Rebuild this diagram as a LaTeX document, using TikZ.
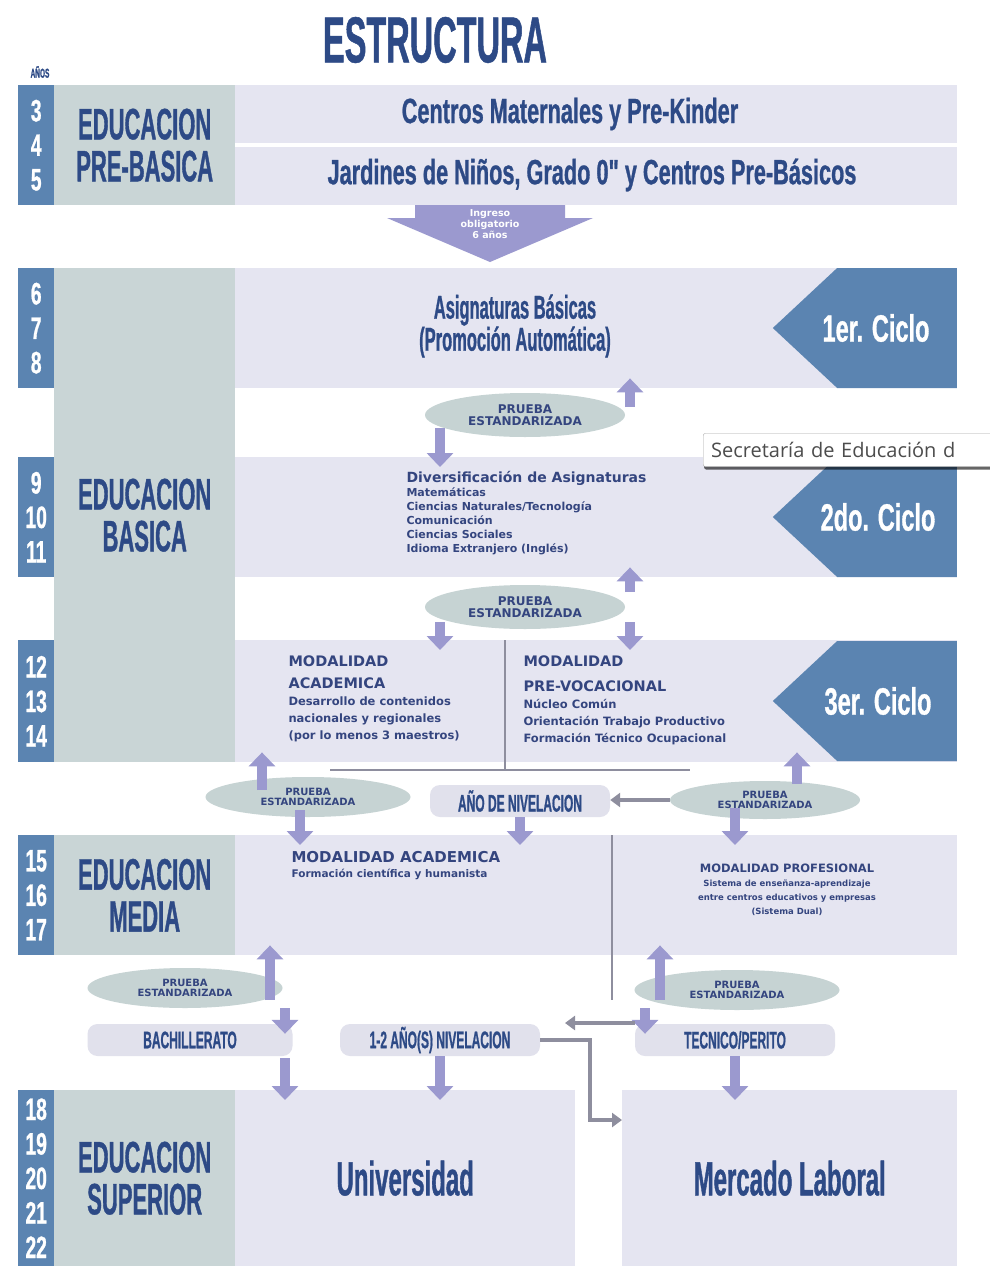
\documentclass[tikz,border=0pt]{standalone}
\usepackage{fontspec}
\setmainfont{DejaVu Sans}
\newfontfamily\headfont[UprightFont={* Bold},FakeStretch=0.5,FakeBold=0.8]{Liberation Sans}
\newfontfamily\headwide[UprightFont={* Bold},FakeStretch=0.62,FakeBold=0.8]{Liberation Sans}
\newfontfamily\bodyfont[UprightFont={* Bold}]{DejaVu Sans}
\newfontfamily\tipfont{Open Sans}
\usetikzlibrary{arrows.meta,shapes.geometric,shapes.symbols,shadows}

\definecolor{stripblue}{HTML}{5B84B1}
\definecolor{stagegrey}{HTML}{C9D5D6}
\definecolor{cellfill}{HTML}{E5E5F1}
\definecolor{navy}{HTML}{2D4A86}
\definecolor{ink}{HTML}{34457F}
\definecolor{fatpurple}{HTML}{9B99CF}
\definecolor{ovalfill}{HTML}{C6D3D3}
\definecolor{pillfill}{HTML}{E1E1EC}
\definecolor{linkgrey}{HTML}{8E8E9E}

\newcommand{\fs}[2]{\fontsize{#1}{#2}\selectfont}

\begin{document}
\begin{tikzpicture}[
  x=1pt, y=-1pt,
  years/.style={fill=stripblue, text=white, anchor=north west, minimum width=36pt, inner sep=0, align=center, font=\headwide\fs{31}{34.5}},
  stage/.style={fill=stagegrey, text=navy, anchor=north west, minimum width=181pt, inner sep=0, align=center, font=\headfont\fs{44}{42}},
  cell/.style={fill=cellfill, text=navy, anchor=north west, inner sep=0},
  ciclo/.style={signal, signal to=west, signal pointer angle=86, fill=stripblue, anchor=east, minimum width=184pt, minimum height=120pt, inner sep=0},
  ciclotext/.style={text=white, font=\headwide\fs{38}{38}},
  prueba/.style={ellipse, fill=ovalfill, text=ink, inner sep=0, align=center, font=\bodyfont\fs{12}{12}},
  pill/.style={rounded corners=10pt, fill=pillfill, text=navy, inner sep=0, font=\headfont\fs{24}{24}},
  fat/.style={draw=fatpurple, line width=10pt, shorten >=-10pt, -{Triangle[width=26pt,length=14pt]}},
  link/.style={draw=linkgrey, line width=4pt, -{Triangle[width=14pt,length=10pt]}},
  divider/.style={draw=linkgrey, line width=2pt}
]
\fill[white] (0,0) rectangle (989,1266);
\useasboundingbox (0,0) rectangle (989,1266);

\node[font=\headfont\fs{65}{65}, text=navy] (title) at (435,40) {ESTRUCTURA};
\node[font=\headfont\fs{13}{13}, text=navy] (anos) at (40,72) {AÑOS};

\node[years, minimum height=120pt] (s0) at (18,85) {3\\4\\5};
\node[years, minimum height=120pt] (s1) at (18,268) {6\\7\\8};
\node[years, minimum height=120pt] (s2) at (18,457) {9\\10\\11};
\node[years, minimum height=122pt] (s3) at (18,640) {12\\13\\14};
\node[years, minimum height=120pt] (s5) at (18,835) {15\\16\\17};
\node[years, minimum height=176pt] (s6) at (18,1090) {18\\19\\20\\21\\22};

\node[stage, minimum height=120pt] (l0) at (54,85) {EDUCACION\\PRE-BASICA};
\node[stage, minimum height=494pt] (l1) at (54,268) {EDUCACION\\BASICA};
\node[stage, minimum height=120pt] (l5) at (54,835) {EDUCACION\\MEDIA};
\node[stage, minimum height=176pt] (l6) at (54,1090) {EDUCACION\\SUPERIOR};

\node[cell, minimum width=722pt, minimum height=58pt] (c0a) at (235,85) {};
\node[cell, minimum width=722pt, minimum height=58pt] (c0b) at (235,147) {};
\node[font=\headwide\fs{35}{35}, text=navy] (mat) at (570,114) {Centros Maternales y Pre-Kinder};
\node[font=\headwide\fs{35}{35}, text=navy] (jar) at (592,175) {Jardines de Niños, Grado 0" y Centros Pre-Básicos};

\fill[fatpurple] (415,205) -- (565,205) -- (565,218) -- (593,218) -- (490,262) -- (387,218) -- (415,218) -- cycle;
\node[text=white, font=\bodyfont\fs{9.5}{11}, align=center] (ingreso) at (490,224) {Ingreso\\obligatorio\\6 años};

\node[cell, minimum width=722pt, minimum height=120pt] (c1) at (235,268) {};
\node[ciclo] (k1) at (957,328) {};
\node[ciclotext] (k1t) at (876,328) {1er. Ciclo};
\node[font=\headfont\fs{33}{32}, text=navy, align=center] (asig) at (515,326) {Asignaturas Básicas\\(Promoción Automática)};

\node[cell, minimum width=722pt, minimum height=120pt] (c2) at (235,457) {};
\node[ciclo] (k2) at (957,517) {};
\node[ciclotext] (k2t) at (878,517) {2do. Ciclo};
\node[anchor=north west, align=left, text=ink, font=\bodyfont\fs{11}{14}] (div) at (403,468)
  {{\fs{14}{15}Diversificación de Asignaturas}\\Matemáticas\\Ciencias Naturales/Tecnología\\Comunicación\\Ciencias Sociales\\Idioma Extranjero (Inglés)};

\node[cell, minimum width=722pt, minimum height=122pt] (c3) at (235,640) {};
\node[ciclo] (k3) at (957,701) {};
\node[ciclotext] (k3t) at (878,701) {3er. Ciclo};
\node[anchor=north west, align=left, text=ink, font=\bodyfont\fs{11.5}{17}] (acad) at (285,652)
  {{\fs{14.5}{17}MODALIDAD}\\[5pt]{\fs{14.5}{17}ACADEMICA}\\Desarrollo de contenidos\\nacionales y regionales\\(por lo menos 3 maestros)};
\node[anchor=north west, align=left, text=ink, font=\bodyfont\fs{11.5}{17}] (prevoc) at (520,652)
  {{\fs{14.5}{17}MODALIDAD}\\[8pt]{\fs{14.5}{17}PRE-VOCACIONAL}\\Núcleo Común\\Orientación Trabajo Productivo\\Formación Técnico Ocupacional};

\node[cell, minimum width=722pt, minimum height=120pt] (c5) at (235,835) {};
\node[anchor=north west, align=left, text=ink, font=\bodyfont\fs{10.5}{15}] (acad2) at (288,848)
  {{\fs{15}{15}MODALIDAD ACADEMICA}\\Formación científica y humanista};
\node[align=center, text=ink, font=\bodyfont\fs{8.5}{14}] (prof) at (787,890)
  {{\fs{11.5}{14}MODALIDAD PROFESIONAL}\\Sistema de enseñanza-aprendizaje\\entre centros educativos y empresas\\(Sistema Dual)};

\node[cell, minimum width=340pt, minimum height=176pt, font=\headfont\fs{48}{48}] (univ) at (235,1090) {Universidad};
\node[cell, minimum width=335pt, minimum height=176pt, font=\headfont\fs{48}{48}] (merc) at (622,1090) {Mercado Laboral};

\draw[divider] (505,640) -- (505,770);
\draw[divider] (330,770) -- (690,770);
\draw[divider] (612,835) -- (612,1000);

\node[prueba, minimum width=200pt, minimum height=44pt] (pr1) at (525,415) {PRUEBA\\ESTANDARIZADA};
\node[prueba, minimum width=200pt, minimum height=44pt] (pr2) at (525,607) {PRUEBA\\ESTANDARIZADA};
\node[prueba, minimum width=205pt, minimum height=40pt, font=\bodyfont\fs{10}{10}] (pr3) at (308,797) {PRUEBA\\ESTANDARIZADA};
\node[prueba, minimum width=190pt, minimum height=38pt, font=\bodyfont\fs{10}{10}] (pr4) at (765,800) {PRUEBA\\ESTANDARIZADA};
\node[prueba, minimum width=195pt, minimum height=40pt, font=\bodyfont\fs{10}{10}] (pr5) at (185,988) {PRUEBA\\ESTANDARIZADA};
\node[prueba, minimum width=205pt, minimum height=40pt, font=\bodyfont\fs{10}{10}] (pr6) at (737,990) {PRUEBA\\ESTANDARIZADA};

\node[pill, minimum width=180pt, minimum height=32pt] (niv1) at (520,801) {AÑO DE NIVELACION};
\node[pill, minimum width=205pt, minimum height=32pt] (bach) at (190,1040) {BACHILLERATO};
\node[pill, minimum width=200pt, minimum height=32pt] (niv2) at (440,1040) {1-2 AÑO(S) NIVELACION};
\node[pill, minimum width=200pt, minimum height=32pt] (tec) at (735,1040) {TECNICO/PERITO};

\coordinate (u1) at (630,407);
\coordinate (d1) at (440,428);
\coordinate (u2) at (630,592);
\coordinate (d2) at (440,622);
\coordinate (d3) at (630,622);
\coordinate (u3) at (262,790);
\coordinate (d4) at (300,810);
\coordinate (u4) at (797,784);
\coordinate (d5) at (735,808);
\coordinate (u5) at (270,1000);
\coordinate (d6) at (285,1008);
\coordinate (d7) at (285,1058);
\coordinate (u6) at (660,1000);
\coordinate (d8) at (645,1008);
\coordinate (t1) at (565,1023);

\draw[fat] (u1) -- (u1 |- c1.south);
\draw[fat] (d1) -- (d1 |- c2.north);
\draw[fat] (u2) -- (u2 |- c2.south);
\draw[fat] (d2) -- (d2 |- c3.north);
\draw[fat] (d3) -- (d3 |- c3.north);
\draw[fat] (u3) -- (u3 |- c3.south);
\draw[fat] (d4) -- (d4 |- c5.north);
\draw[fat] (niv1.south) -- (niv1.south |- c5.north);
\draw[fat] (u4) -- (u4 |- c3.south);
\draw[fat] (d5) -- (d5 |- c5.north);
\draw[fat] (u5) -- (u5 |- c5.south);
\draw[fat] (d6) -- (d6 |- bach.north);
\draw[fat] (d7) -- (d7 |- univ.north);
\draw[fat] (niv2.south) -- (niv2.south |- univ.north);
\draw[fat] (u6) -- (u6 |- c5.south);
\draw[fat] (d8) -- (d8 |- tec.north);
\draw[fat] (tec.south) -- (tec.south |- merc.north);

\draw[link] (pr4.west) -- (pr4.west -| niv1.east);
\draw[link] (tec.west |- t1) -- (t1);
\draw[link] (niv2.east) -- ++(50,0) |- ([yshift=-30pt]merc.north west);

\node[anchor=west, draw=gray!70, fill=white, rounded corners=2pt, minimum height=33pt, text width=300pt, inner xsep=8pt, align=left, text=black!70, font=\tipfont\fs{20}{20},
  drop shadow={shadow xshift=1pt, shadow yshift=-3pt, fill=black, opacity=0.6}] (tip) at (703,450) {Secretaría de Educación d};
\end{tikzpicture}
\end{document}
